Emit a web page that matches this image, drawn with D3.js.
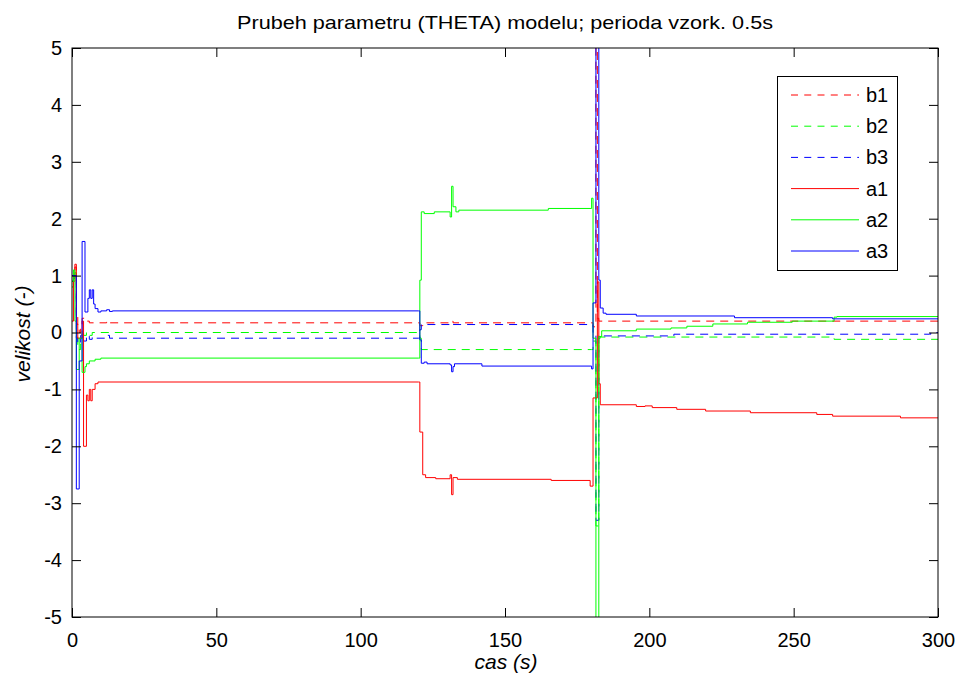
<!DOCTYPE html>
<html>
<head>
<meta charset="utf-8">
<script src="https://cdn.jsdelivr.net/npm/d3@7"></script>
<style>
  html, body { margin: 0; padding: 0; background: #fff; }
  svg { display: block; font-family: "Liberation Sans", Arial, Helvetica, sans-serif; }
</style>
</head>
<body>
<svg id="chart" width="963" height="678"></svg>
<script>
// ---- data (change points [time s, value]; sampled every 0.5 s, held between samples) ----
const xTicks = [0, 50, 100, 150, 200, 250, 300];
const yTicks = [-5, -4, -3, -2, -1, 0, 1, 2, 3, 4, 5];
const seriesNames = ["b1", "b2", "b3", "a1", "a2", "a3"];
const seriesColors = ["#ff0000", "#00ff00", "#0000ff", "#ff0000", "#00ff00", "#0000ff"];
const seriesDashed = [true, true, true, false, false, false];

const b1 = [[0,0.9],[0.5,1.1],[1,1.15],[1.5,0.3],[2,0.1],[2.5,0.0],[3,0.1],[3.5,0.25],[4.5,0.2],[6,0.17],
  [12,0.2],[13,0.17],[120,0.17],[120.5,0.12],[121.5,0.17],[131,0.2],[132,0.17],[180,0.17],[180.5,0.1],
  [181.5,5.5],[182,0.25],[182.5,0.2],[300,0.2]];
const b2 = [[0,0.8],[0.5,1.0],[1,1.05],[1.5,0.0],[2,-0.3],[3,-0.2],[3.5,0.05],[4,-0.05],[5,0.0],[6,-0.05],
  [7,0.0],[120,0.0],[120.5,-0.1],[121,-0.3],[180,-0.3],[180.5,-0.15],[181.5,-3.4],[182.5,-0.1],[183,-0.08],
  [263,-0.08],[264,-0.12],[300,-0.12]];
const b3 = [[0,0.9],[0.5,0.95],[1,1.0],[1.5,-0.1],[2,-0.2],[3,-0.05],[4,-0.15],[5,-0.05],[6,-0.12],[7,-0.08],
  [8,-0.1],[12,-0.05],[13,-0.1],[120,-0.1],[120.5,0.05],[121,0.14],[131,0.12],[131.5,0.14],[180,0.14],
  [180.5,0.0],[181.5,-3.3],[182.5,-0.05],[183,-0.06],[208,-0.06],[208.5,-0.03],[297,-0.03],[297.5,0.0],[300,0.0]];
const a1 = [[0,0.2],[0.5,0.9],[1,1.2],[1.5,0.15],[2,-0.1],[3.5,0.2],[4,-2.0],[5,-1.1],[5.5,-1.2],[6,-1.0],
  [6.5,-1.2],[7,-1.0],[8,-0.9],[9,-0.87],[120,-0.87],[120.5,-1.75],[121.5,-2.5],[122.5,-2.55],[126,-2.57],
  [131,-2.5],[131.5,-2.85],[132,-2.55],[133.5,-2.58],[166,-2.6],[179.5,-2.7],[180.5,-1.15],[182,0.89],
  [182.5,-0.9],[183,-1.27],[195.5,-1.3],[198.5,-1.29],[201,-1.32],[209.5,-1.35],[219.5,-1.38],[235,-1.41],
  [258,-1.44],[263.5,-1.47],[287,-1.5],[300,-1.5]];
const a2 = [[0,0.9],[0.5,1.1],[1,0.2],[1.5,-0.65],[2.5,-0.1],[3.5,-0.7],[4.5,-0.6],[5,-0.55],[6,-0.5],
  [8,-0.47],[10,-0.45],[120,-0.45],[120.5,0.92],[121,2.12],[122,2.09],[125.5,2.12],[131,2.03],[131.5,2.57],
  [132,2.21],[133,2.12],[134,2.15],[165,2.18],[180,2.36],[180.5,-0.1],[181.5,-5.5],[182.5,-0.07],[183.5,0.03],
  [195.5,0.06],[207.5,0.08],[213,0.11],[222,0.15],[234,0.18],[249.5,0.2],[264,0.27],[265,0.28],[300,0.28]];
const a3 = [[0,1.0],[1.5,-2.75],[2.5,-0.5],[3.5,1.6],[4.5,0.36],[5.5,0.6],[6,0.75],[6.5,0.6],[7,0.75],
  [7.5,0.5],[8,0.42],[9,0.36],[10,0.38],[12,0.4],[13,0.37],[14,0.38],[120,0.38],[120.5,-0.13],[121,-0.54],
  [122,-0.52],[123,-0.55],[131,-0.57],[131.5,-0.69],[132,-0.6],[132.5,-0.55],[142,-0.59],[180,-0.64],
  [180.5,0.52],[181.5,5.5],[182.5,0.92],[183,0.43],[184,0.34],[185,0.32],[195.5,0.29],[229.5,0.26],
  [263.5,0.24],[300,0.24]];
const seriesData = [b1, b2, b3, a1, a2, a3];

const titleText = "Prubeh parametru (THETA) modelu; perioda vzork. 0.5s";
const xLabel = "cas (s)";
const yLabel = "velikost (-)";

// ---- layout ----
const L = 72, R = 938, T = 48, B = 617;
const svg = d3.select("#chart");
const x = d3.scaleLinear().domain([0, 300]).range([L, R]);
const y = d3.scaleLinear().domain([-5, 5]).range([B, T]);

svg.append("rect").attr("width", 963).attr("height", 678).attr("fill", "#fff");
svg.append("defs").append("clipPath").attr("id", "clip")
  .append("rect").attr("x", L).attr("y", T).attr("width", R - L).attr("height", B - T);

const line = d3.line().x(d => x(d[0])).y(d => y(d[1])).curve(d3.curveStepAfter);
const g = svg.append("g").attr("clip-path", "url(#clip)");
seriesData.forEach((d, i) => {
  g.append("path").datum(d)
    .attr("d", line)
    .attr("fill", "none")
    .attr("stroke", seriesColors[i])
    .attr("stroke-width", 1)
    .attr("stroke-dasharray", seriesDashed[i] ? "8,6" : null);
});

// ---- axes ----
const tickLen = 9;
const fontSize = 20;
const fmt = d => String(d);
const axB = svg.append("g").attr("transform", `translate(0,${B})`)
  .call(d3.axisBottom(x).tickValues(xTicks).tickFormat(fmt).tickSizeInner(-tickLen).tickSizeOuter(0).tickPadding(16));
const axT = svg.append("g").attr("transform", `translate(0,${T})`)
  .call(d3.axisTop(x).tickValues(xTicks).tickSizeInner(-tickLen).tickSizeOuter(0).tickFormat(""));
const axL = svg.append("g").attr("transform", `translate(${L},0)`)
  .call(d3.axisLeft(y).tickValues(yTicks).tickFormat(fmt).tickSizeInner(-tickLen).tickSizeOuter(0).tickPadding(10));
const axR = svg.append("g").attr("transform", `translate(${R},0)`)
  .call(d3.axisRight(y).tickValues(yTicks).tickSizeInner(-tickLen).tickSizeOuter(0).tickFormat(""));
[axB, axT, axL, axR].forEach(a => {
  a.select(".domain").remove();
  a.selectAll("line").attr("stroke", "#000");
  a.selectAll("text").attr("font-size", fontSize).attr("fill", "#000")
    .attr("font-family", "'Liberation Sans', Arial, sans-serif");
});
svg.append("rect").attr("x", L).attr("y", T).attr("width", R - L).attr("height", B - T)
  .attr("fill", "none").attr("stroke", "#000").attr("stroke-width", 1);

// ---- titles ----
svg.append("text").attr("x", 505).attr("y", 29).attr("text-anchor", "middle")
  .attr("font-size", 19).attr("textLength", 536).attr("lengthAdjust", "spacingAndGlyphs").text(titleText);
svg.append("text").attr("x", 506).attr("y", 669).attr("text-anchor", "middle")
  .attr("font-size", 21).attr("font-style", "italic").text(xLabel);
svg.append("text").attr("transform", `translate(30,334) rotate(-90)`)
  .attr("text-anchor", "middle").attr("font-size", 21).attr("font-style", "italic").text(yLabel);

// ---- legend ----
const lg = svg.append("g");
lg.append("rect").attr("x", 777.5).attr("y", 76.5).attr("width", 120).attr("height", 194)
  .attr("fill", "#fff").attr("stroke", "#000").attr("stroke-width", 1);
const legY = d3.scalePoint().domain(seriesNames).range([95, 251]);
seriesNames.forEach((n, i) => {
  const yy = legY(n);
  lg.append("line").attr("x1", 791).attr("x2", 859).attr("y1", yy).attr("y2", yy)
    .attr("stroke", seriesColors[i]).attr("stroke-width", 1)
    .attr("stroke-dasharray", seriesDashed[i] ? "7,6.25" : null);
  lg.append("text").attr("x", 866).attr("y", yy).attr("dy", "0.35em")
    .attr("font-size", 20).text(n);
});
</script>
</body>
</html>
